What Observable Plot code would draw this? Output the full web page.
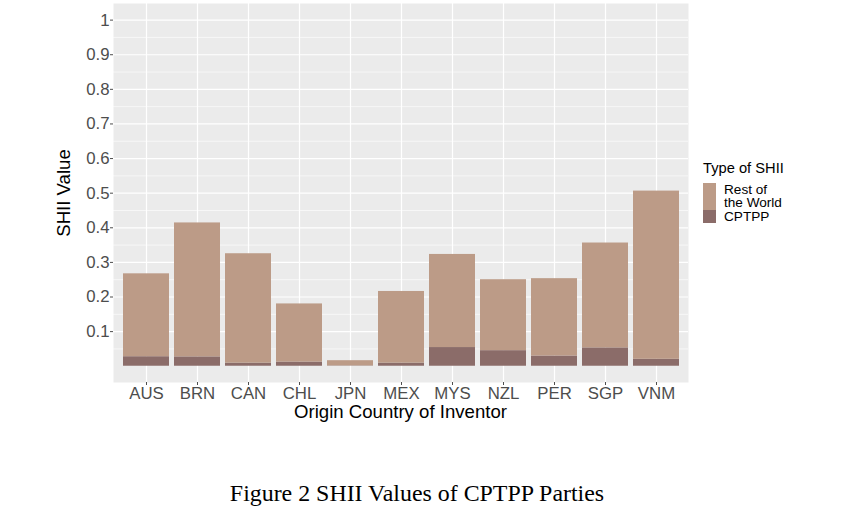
<!DOCTYPE html>
<html>
<head>
<meta charset="utf-8">
<script src="https://cdn.jsdelivr.net/npm/d3@7"></script>
<script src="https://cdn.jsdelivr.net/npm/@observablehq/plot@0.6"></script>
<style>
  html, body { margin: 0; padding: 0; background: #fff; }
  #wrap { position: relative; width: 843px; height: 523px; overflow: hidden; font-family: "Liberation Sans", Arial, sans-serif; }
  #chart { position: absolute; left: 0; top: 0; }
  .abs { position: absolute; white-space: nowrap; }
</style>
</head>
<body>
<div id="wrap">
  <div id="chart"></div>
  <div class="abs" id="ytitle" style="left:63.5px; top:192.5px; font-size:18.6px; color:#000; transform: translate(-50%,-50%) rotate(-90deg);">SHII Value</div>
  <div class="abs" id="xtitle" style="left:400.5px; top:403px; font-size:18.6px; line-height:18.6px; color:#000; transform: translateX(-50%);">Origin Country of Inventor</div>
  <div class="abs" style="left:703px; top:160px; font-size:14.7px; color:#000;">Type of SHII</div>
  <div class="abs" id="key1" style="left:703px; top:183px; width:13px; height:27px;"></div>
  <div class="abs" id="key2" style="left:703px; top:210px; width:13px; height:13px;"></div>
  <div class="abs" style="left:724px; top:182.5px; font-size:13.6px; line-height:13.6px; color:#000;">Rest of<br>the World</div>
  <div class="abs" style="left:724px; top:210px; font-size:13.6px; line-height:13.6px; color:#000;">CPTPP</div>
  <div class="abs" style="left:417px; top:480px; font-family:'Liberation Serif','Times New Roman',serif; font-size:23.9px; color:#000; transform: translateX(-50%);">Figure 2 SHII Values of CPTPP Parties</div>
</div>
<script>
const countries = ["AUS","BRN","CAN","CHL","JPN","MEX","MYS","NZL","PER","SGP","VNM"];
const cptppValues = [0.0275, 0.027, 0.009, 0.012, 0.001, 0.009, 0.054, 0.045, 0.0295, 0.053, 0.020];
const restValues  = [0.2395, 0.387, 0.316, 0.168, 0.015, 0.207, 0.269, 0.205, 0.2235, 0.303, 0.486];
const types = ["Rest of the World", "CPTPP"];
const typeColors = ["#bc9b87", "#8b6c69"];
const yMajorTicks = [0.1, 0.2, 0.3, 0.4, 0.5, 0.6, 0.7, 0.8, 0.9, 1];
const yMinorTicks = [0.05, 0.15, 0.25, 0.35, 0.45, 0.55, 0.65, 0.75, 0.85, 0.95];

document.getElementById("key1").style.background = typeColors[0];
document.getElementById("key2").style.background = typeColors[1];

const rows = [];
countries.forEach((c, i) => {
  rows.push({country: c, type: "CPTPP", value: cptppValues[i]});
  rows.push({country: c, type: "Rest of the World", value: restValues[i]});
});

const W = 843, H = 430;
const chart = Plot.plot({
  width: W,
  height: H,
  marginLeft: 113,
  marginRight: 155,
  marginTop: 3,
  marginBottom: H - 382,
  style: {fontFamily: "'Liberation Sans', Arial, sans-serif", background: "transparent"},
  x: {type: "band", domain: countries, paddingInner: 0.1, paddingOuter: 0.15, align: 0.5, label: null},
  y: {domain: [-0.047, 1.048], label: null},
  color: {domain: types, range: typeColors},
  marks: [
    Plot.frame({fill: "#ebebeb", stroke: "none"}),
    Plot.gridY(yMinorTicks, {stroke: "#fff", strokeOpacity: 1, strokeWidth: 0.6}),
    Plot.gridY(yMajorTicks, {stroke: "#fff", strokeOpacity: 1, strokeWidth: 1.2}),
    Plot.gridX({stroke: "#fff", strokeOpacity: 1, strokeWidth: 1.2}),
    Plot.barY(rows, Plot.stackY({order: null}, {x: "country", y: "value", fill: "type"})),
    Plot.axisY(yMajorTicks, {tickFormat: d => String(+d.toFixed(1)), tickSize: 3, tickPadding: 1, fontSize: 16.8, color: "#4d4d4d", label: null}),
    Plot.axisX({tickSize: 3, tickPadding: 1.5, fontSize: 16.8, color: "#4d4d4d", label: null})
  ]
});
document.getElementById("chart").appendChild(chart);
</script>
</body>
</html>
